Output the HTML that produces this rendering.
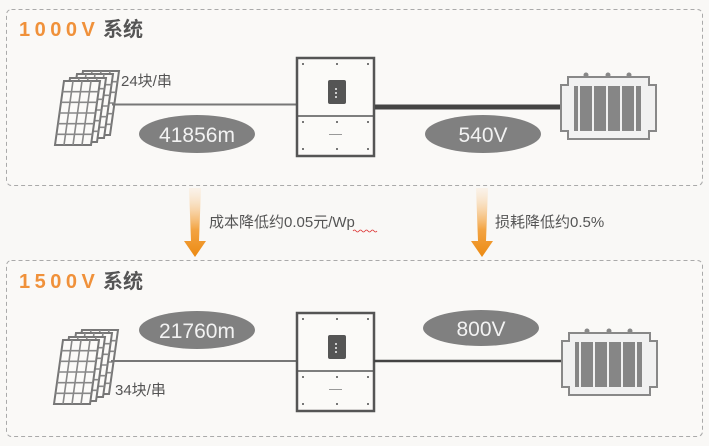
<!DOCTYPE html>
<html><head><meta charset="utf-8"><style>
html,body{margin:0;padding:0;background:#f9f8f6;}
svg{display:block}
text{font-family:"Liberation Sans","Noto Sans CJK SC",sans-serif;}
</style></head><body>
<svg width="709" height="446" viewBox="0 0 709 446" xmlns="http://www.w3.org/2000/svg">
<defs>
<linearGradient id="ag" x1="0" y1="0" x2="0" y2="1">
<stop offset="0" stop-color="#fbe6cc" stop-opacity="0.3"/>
<stop offset="0.6" stop-color="#f3a443"/>
<stop offset="1" stop-color="#ec8a12"/>
</linearGradient>
<g id="panel">
<path d="M9,0 L45,0 L36,64 L0,64 Z" fill="#fbfaf8" stroke="#777" stroke-width="2"/>
<path d="M18,0 L9,64 M27,0 L18,64 M36,0 L27,64 M7.6,10.7 L43.5,10.7 M6.1,21.3 L42,21.3 M4.6,32 L40.5,32 M3,42.7 L39,42.7 M1.5,53.3 L37.5,53.3" stroke="#888" stroke-width="1.6" fill="none"/>
</g>
<g id="panels">
<use href="#panel" x="19" y="-10"/>
<use href="#panel" x="13" y="-7"/>
<use href="#panel" x="6" y="-3"/>
<use href="#panel" x="0" y="0"/>
</g>
<g id="inv">
<rect x="0" y="0" width="77" height="98" fill="#fbfaf8" stroke="#555" stroke-width="2.5"/>
<line x1="0" y1="58" x2="77" y2="58" stroke="#555" stroke-width="1.5"/>
<rect x="31" y="22" width="18" height="24" rx="2" fill="#555"/>
<rect x="38" y="30" width="2" height="2" fill="#ccc"/><rect x="38" y="34" width="2" height="2" fill="#ccc"/><rect x="38" y="38" width="2" height="2" fill="#ccc"/>
<rect x="32" y="76" width="13" height="1" fill="#999"/>
<g fill="#777"><rect x="5" y="5" width="2" height="2"/><rect x="39" y="5" width="2" height="2"/><rect x="70" y="5" width="2" height="2"/>
<rect x="5" y="63" width="2" height="2"/><rect x="39" y="63" width="2" height="2"/><rect x="70" y="63" width="2" height="2"/>
<rect x="5" y="90" width="2" height="2"/><rect x="39" y="90" width="2" height="2"/><rect x="70" y="90" width="2" height="2"/></g>
</g>
<g id="tr">
<path d="M7,0 L88,0 L88,8 L95,8 L95,54 L88,54 L88,62 L7,62 L7,54 L0,54 L0,8 L7,8 Z" fill="#f1f1f1" stroke="#888" stroke-width="2"/>
<rect x="13" y="9" width="67" height="45" fill="#868686"/>
<g stroke="#f1f1f1" stroke-width="2"><line x1="18" y1="9" x2="18" y2="54"/><line x1="32" y1="9" x2="32" y2="54"/><line x1="46" y1="9" x2="46" y2="54"/><line x1="60" y1="9" x2="60" y2="54"/><line x1="74" y1="9" x2="74" y2="54"/></g>
<g fill="#888"><circle cx="25" cy="-2" r="2.5"/><circle cx="47" cy="-2" r="2.5"/><circle cx="68" cy="-2" r="2.5"/></g>
</g>
</defs>

<!-- top box -->
<rect x="6.5" y="9.5" width="696" height="176" rx="5" fill="#faf9f7" stroke="#aaa" stroke-dasharray="4,3"/>
<text x="19" y="36" font-size="20" font-weight="bold" fill="#f0913a" letter-spacing="4.5">1000V</text>
<text x="103" y="36" font-size="20" font-weight="bold" fill="#555">系统</text>
<use href="#panels" x="55" y="81"/>
<text x="121" y="86" font-size="15" fill="#555">24块/串</text>
<line x1="112" y1="104.5" x2="297" y2="104.5" stroke="#777" stroke-width="2"/>
<ellipse cx="197" cy="134" rx="58" ry="19" fill="#808080"/>
<text x="197" y="142" font-size="21" fill="#f2f2f2" text-anchor="middle">41856m</text>
<use href="#inv" x="297" y="58"/>
<line x1="375" y1="107" x2="561" y2="107" stroke="#444" stroke-width="5"/>
<ellipse cx="483" cy="134" rx="58" ry="19" fill="#808080"/>
<text x="483" y="142" font-size="21" fill="#f2f2f2" text-anchor="middle">540V</text>
<use href="#tr" x="561" y="77"/>

<!-- arrows -->
<path d="M189,188 L201,188 L199,241 L206,241 L195,257 L184,241 L191,241 Z" fill="url(#ag)"/>
<path d="M476,188 L488,188 L486,241 L493,241 L482,257 L471,241 L478,241 Z" fill="url(#ag)"/>
<text x="209" y="227" font-size="15" fill="#555">成本降低约0.05元/Wp</text>
<path d="M353,231 q1.5,-2 3,0 t3,0 t3,0 t3,0 t3,0 t3,0 t3,0 t3,0" stroke="#d33" stroke-width="0.8" fill="none"/>
<text x="495" y="227" font-size="15" fill="#555">损耗降低约0.5%</text>

<!-- bottom box -->
<rect x="6.5" y="260.5" width="696" height="176" rx="5" fill="#faf9f7" stroke="#aaa" stroke-dasharray="4,3"/>
<text x="19" y="288" font-size="20" font-weight="bold" fill="#f0913a" letter-spacing="4.5">1500V</text>
<text x="103" y="288" font-size="20" font-weight="bold" fill="#555">系统</text>
<use href="#panels" x="54" y="340"/>
<text x="115" y="395" font-size="15" fill="#555">34块/串</text>
<line x1="111" y1="361" x2="297" y2="361" stroke="#777" stroke-width="2"/>
<ellipse cx="197" cy="330" rx="58" ry="19" fill="#808080"/>
<text x="197" y="338" font-size="21" fill="#f2f2f2" text-anchor="middle">21760m</text>
<use href="#inv" x="297" y="313"/>
<line x1="374" y1="361" x2="563" y2="361" stroke="#444" stroke-width="2.5"/>
<ellipse cx="481" cy="328" rx="58" ry="18" fill="#808080"/>
<text x="481" y="336" font-size="21" fill="#f2f2f2" text-anchor="middle">800V</text>
<use href="#tr" x="562" y="333"/>
</svg>
</body></html>
